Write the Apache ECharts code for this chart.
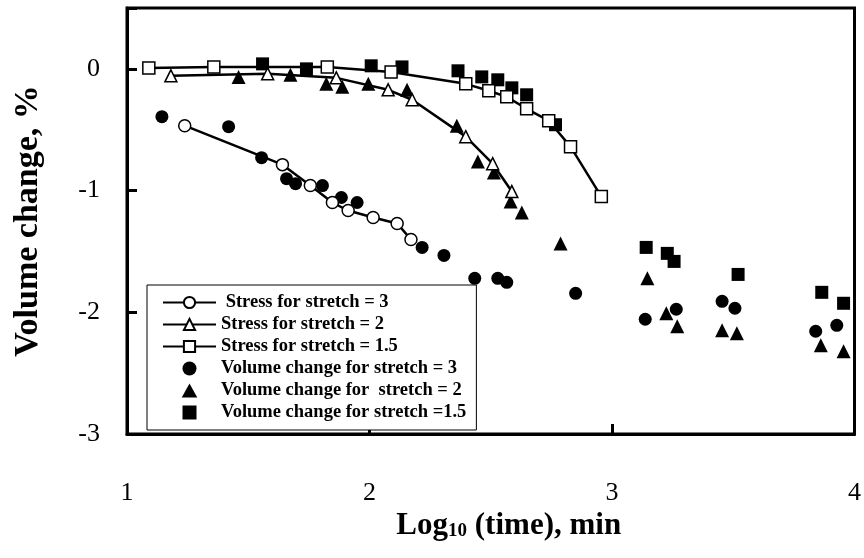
<!DOCTYPE html>
<html>
<head>
<meta charset="utf-8">
<script src="https://cdn.jsdelivr.net/npm/echarts@6/dist/echarts.min.js"></script>
<style>
html,body{margin:0;padding:0;background:#fff;}
#chart{width:864px;height:558px;}
</style>
</head>
<body>
<div id="chart"></div>
<script>
// ---- data (x = log10(time, min), y = volume change %) ----
var stress3 = [[1.238,-0.467],[1.641,-0.787],[1.756,-0.959],[1.847,-1.098],[1.912,-1.164],[2.015,-1.221],[2.114,-1.270],[2.171,-1.402]];
var stress2 = [[1.181,-0.057],[1.580,-0.041],[1.863,-0.074],[2.077,-0.172],[2.176,-0.254],[2.397,-0.557],[2.508,-0.779],[2.587,-1.008]];
var stress15 = [[1.090,0.008],[1.358,0.016],[1.826,0.016],[2.089,-0.025],[2.397,-0.123],[2.492,-0.180],[2.566,-0.230],[2.648,-0.328],[2.739,-0.426],[2.829,-0.639],[2.956,-1.049]];
var vol3 = [[1.144,-0.393],[1.419,-0.475],[1.555,-0.730],[1.658,-0.902],[1.695,-0.943],[1.806,-0.959],[1.884,-1.057],[1.949,-1.098],[2.217,-1.467],[2.307,-1.533],[2.434,-1.721],[2.529,-1.721],[2.566,-1.754],[2.850,-1.844],[3.137,-2.057],[3.265,-1.975],[3.454,-1.910],[3.507,-1.967],[3.840,-2.156],[3.927,-2.107]];
var vol2 = [[1.460,-0.066],[1.674,-0.049],[1.822,-0.123],[1.888,-0.148],[1.995,-0.123],[2.155,-0.172],[2.360,-0.467],[2.447,-0.762],[2.513,-0.852],[2.582,-1.090],[2.628,-1.180],[2.788,-1.434],[3.146,-1.721],[3.224,-2.008],[3.269,-2.115],[3.454,-2.148],[3.515,-2.172],[3.861,-2.270],[3.955,-2.320]];
var vol15 = [[1.559,0.041],[1.740,0.000],[2.007,0.025],[2.134,0.016],[2.365,-0.016],[2.463,-0.066],[2.529,-0.090],[2.587,-0.156],[2.648,-0.213],[2.767,-0.459],[3.141,-1.467],[3.228,-1.516],[3.256,-1.582],[3.520,-1.689],[3.865,-1.836],[3.955,-1.926]];
var seriesNames = [' Stress for stretch = 3','Stress for stretch = 2','Stress for stretch = 1.5','Volume change for stretch = 3','Volume change for  stretch = 2','Volume change for stretch =1.5'];
var xTicks = [1,2,3,4];
var yTicks = [-3,-2,-1,0];

var FONT = '"Liberation Serif","Times New Roman",serif';
var TRI = 'path://M5,0L10,9L0,9Z';
var SQR = 'path://M0,0L10,0L10,10L0,10Z';
function lineSeries(name, data, sym){
  return {name:name, type:'line', data:data, symbol:sym, symbolSize:12,
    lineStyle:{color:'#000', width:2.5},
    itemStyle:{color:'#fff', borderColor:'#000', borderWidth:1.5, opacity:1},
    emphasis:{disabled:true}, animation:false};
}
function scatterSeries(name, data, sym, size){
  return {name:name, type:'scatter', data:data, symbol:sym, symbolSize:size,
    itemStyle:{color:'#000', opacity:1}, emphasis:{disabled:true}, animation:false};
}
var chart = echarts.init(document.getElementById('chart'), null, {renderer:'canvas'});
chart.setOption({
  backgroundColor:'#fff',
  animation:false,
  grid:{left:127, right:7, top:8, bottom:124, show:true, borderColor:'#000', borderWidth:3},
  xAxis:{type:'value', min:xTicks[0], max:xTicks[xTicks.length-1], interval:1,
    axisLine:{show:true, onZero:false, lineStyle:{color:'#000', width:3}},
    axisTick:{show:true, inside:true, length:10, lineStyle:{color:'#000', width:3}},
    splitLine:{show:false},
    axisLabel:{color:'#000', fontFamily:FONT, fontSize:26, margin:46},
    name:'{a|Log}{s|10}{a| (time), min}', nameLocation:'middle', nameGap:76,
    nameTextStyle:{padding:[0,0,0,36],
      rich:{a:{fontFamily:FONT, fontSize:31, fontWeight:'bold', color:'#000'},
            s:{fontFamily:FONT, fontSize:19, fontWeight:'bold', color:'#000', padding:[10,0,0,0]}}}
  },
  yAxis:{type:'value', min:yTicks[0], max:0.5, interval:1,
    axisLine:{show:true, onZero:false, lineStyle:{color:'#000', width:3}},
    axisTick:{show:true, inside:true, length:10, lineStyle:{color:'#000', width:3}},
    splitLine:{show:false},
    axisLabel:{color:'#000', fontFamily:FONT, fontSize:26, margin:27,
      formatter:function(v){ return yTicks.indexOf(v) >= 0 ? String(v) : ''; }},
    name:'Volume change, %', nameLocation:'middle', nameGap:82,
    nameTextStyle:{fontFamily:FONT, fontSize:34, fontWeight:'bold', color:'#000'}
  },
  legend:{orient:'vertical', left:147, top:285,
    data:[
      {name:seriesNames[0]},
      {name:seriesNames[1]},
      {name:seriesNames[2]},
      {name:seriesNames[3], icon:'circle'},
      {name:seriesNames[4], icon:TRI},
      {name:seriesNames[5], icon:SQR}
    ],
    symbolKeepAspect:true,
    backgroundColor:'#fff', borderColor:'#000', borderWidth:1,
    padding:[8,10,8,15], itemGap:3, itemWidth:53, itemHeight:14,
    selectedMode:false,
    textStyle:{fontFamily:FONT, fontSize:18.5, fontWeight:'bold', color:'#000'}
  },
  series:[
    lineSeries(seriesNames[0], stress3, 'circle'),
    lineSeries(seriesNames[1], stress2, 'triangle'),
    lineSeries(seriesNames[2], stress15, 'rect'),
    scatterSeries(seriesNames[3], vol3, 'circle', 13),
    scatterSeries(seriesNames[4], vol2, 'triangle', 14),
    scatterSeries(seriesNames[5], vol15, 'rect', 13)
  ]
});
</script>
</body>
</html>
